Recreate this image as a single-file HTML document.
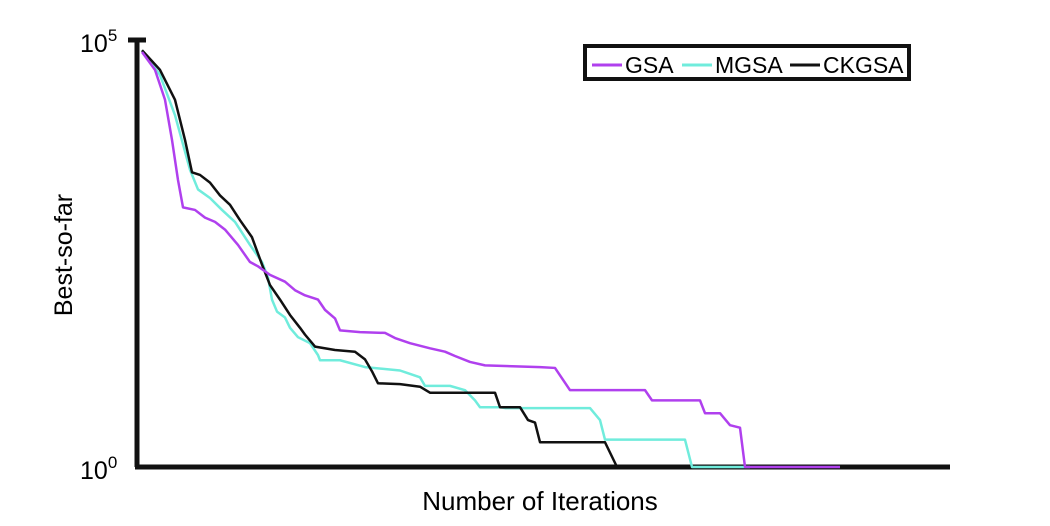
<!DOCTYPE html>
<html><head><meta charset="utf-8"><style>
body{margin:0;background:#fff;}
svg{display:block;font-family:"Liberation Sans",sans-serif;}
</style></head><body>
<svg id="chart" width="1050" height="526" viewBox="0 0 1050 526">
<line x1="137" y1="40" x2="137" y2="467" stroke="#111" stroke-width="5"/>
<line x1="128" y1="40" x2="146" y2="40" stroke="#111" stroke-width="5"/>
<line x1="135" y1="467" x2="950" y2="467" stroke="#111" stroke-width="5"/>
<g id="plot"></g>
<text x="80" y="52" font-size="25">10<tspan dy="-11" font-size="17">5</tspan></text>
<text x="80" y="479" font-size="25">10<tspan dy="-11" font-size="17">0</tspan></text>
<text transform="translate(72,255) rotate(-90)" text-anchor="middle" font-size="25">Best-so-far</text>
<text x="540" y="510" text-anchor="middle" font-size="26">Number of Iterations</text>
<g>
<rect x="585" y="46" width="324" height="33" fill="#fff" stroke="#111" stroke-width="4"/>
<line x1="592" y1="65" x2="622" y2="65" stroke="#b040ee" stroke-width="3"/>
<text x="625" y="73" font-size="23">GSA</text>
<line x1="682" y1="65" x2="712" y2="65" stroke="#70ecdc" stroke-width="3"/>
<text x="715" y="73" font-size="23">MGSA</text>
<line x1="790" y1="65" x2="820" y2="65" stroke="#111" stroke-width="3"/>
<text x="823" y="73" font-size="23">CKGSA</text>
</g>
</svg>
<script>
// iteration index and log10(best-so-far)
const gsaIter=[0,13,23,30,36,41,53,63,73,83,96,108,116,128,143,153,163,176,183,193,198,218,243,253,268,288,303,313,328,343,398,413,428,458,503,510,558,563,578,588,598,603,698];
const gsaLog=[4.86,4.65,4.30,3.83,3.36,3.04,3.01,2.92,2.87,2.78,2.60,2.40,2.35,2.25,2.17,2.07,2.01,1.96,1.84,1.74,1.60,1.58,1.57,1.51,1.45,1.39,1.35,1.30,1.23,1.19,1.17,1.16,0.90,0.90,0.90,0.78,0.78,0.63,0.63,0.49,0.46,0,0];
const mgsaIter=[0,18,33,48,56,68,80,93,108,120,126,130,135,143,148,156,168,176,178,198,223,258,263,278,283,308,323,333,338,358,363,448,458,463,543,550,608];
const mgsaLog=[4.88,4.59,4.12,3.48,3.25,3.15,3.01,2.87,2.60,2.40,2.22,1.96,1.82,1.75,1.63,1.52,1.45,1.31,1.25,1.25,1.17,1.13,1.11,1.05,0.95,0.95,0.90,0.78,0.70,0.70,0.69,0.69,0.55,0.32,0.32,0,0];
const ckIter=[0,18,33,43,50,58,68,78,88,98,110,120,128,138,148,158,163,173,193,213,223,230,236,258,278,288,353,358,378,386,393,398,463,475];
const ckLog=[4.88,4.65,4.30,3.83,3.45,3.42,3.33,3.18,3.07,2.89,2.69,2.37,2.13,1.96,1.78,1.63,1.55,1.41,1.37,1.35,1.26,1.12,0.98,0.97,0.94,0.87,0.87,0.70,0.70,0.55,0.52,0.29,0.29,0];
const X0=142, XS=1.0, Y0=467, YS=85.4;
function sx(i){return X0+i*XS;}
function sy(l){return Y0-l*YS;}
const plot=document.getElementById('plot');
function draw(it,lg,color,name){
  const p=document.createElementNS('http://www.w3.org/2000/svg','polyline');
  p.setAttribute('points',it.map((v,k)=>sx(v)+','+sy(lg[k])).join(' '));
  p.setAttribute('fill','none');p.setAttribute('stroke',color);p.setAttribute('stroke-width','2.5');
  p.setAttribute('stroke-linejoin','round');
  
  
  plot.appendChild(p);
}
draw(mgsaIter,mgsaLog,'#70ecdc','mgsa-line');
draw(ckIter,ckLog,'#111','ckgsa-line');
draw(gsaIter,gsaLog,'#b040ee','gsa-line');
</script>
</body></html>
